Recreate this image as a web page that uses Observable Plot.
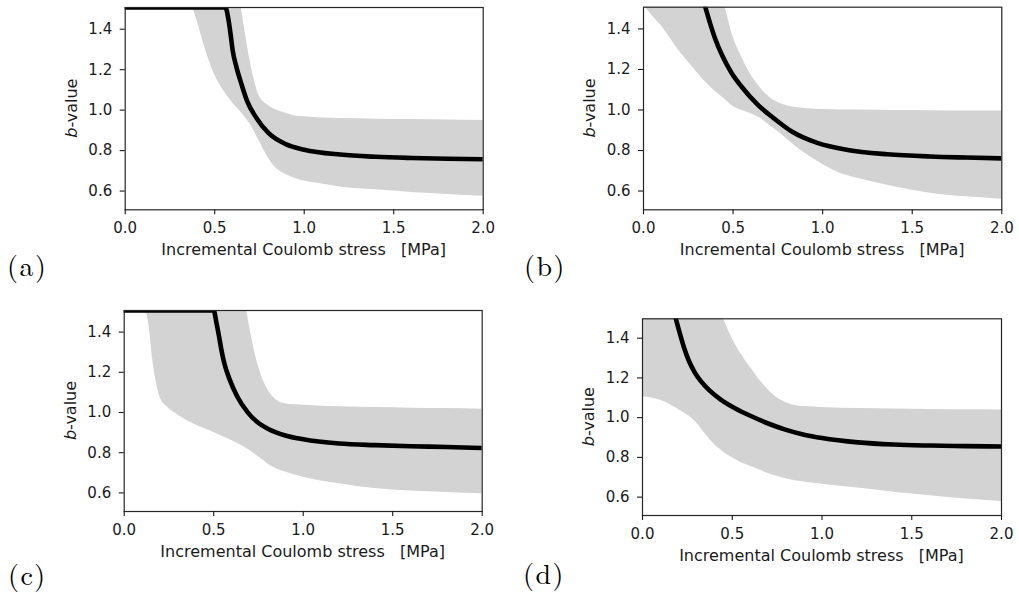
<!DOCTYPE html>
<html><head><meta charset="utf-8">
<script src="https://cdn.jsdelivr.net/npm/d3@7"></script>
<script src="https://cdn.jsdelivr.net/npm/@observablehq/plot@0.6"></script>
<style>
html,body{margin:0;padding:0;background:#fff;}
#root{position:relative;width:1019px;height:594px;overflow:hidden;background:#fff;}
.panel{position:absolute;}
</style></head>
<body><div id="root"></div>
<script>
// ---------- data ----------
const xTicks = [0, 0.5, 1.0, 1.5, 2.0];
const yTicks = [0.6, 0.8, 1.0, 1.2, 1.4];
const xLabel = "Incremental Coulomb stress\u00a0\u00a0\u00a0[MPa]";
const yLabelItalic = "b";
const yLabelRest = "-value";
const panelNames = ["(a)", "(b)", "(c)", "(d)"];

// panel (a)
const bandXa = [0, 0.35, 0.4, 0.45, 0.5, 0.55, 0.6, 0.65, 0.7, 0.75, 0.8, 0.85, 0.9, 0.95, 1.0, 1.1, 1.2, 1.4, 1.6, 1.8, 2.0];
const loA = [2.0, 1.56, 1.44, 1.287, 1.167, 1.088, 1.028, 0.979, 0.92, 0.838, 0.755, 0.7, 0.673, 0.655, 0.642, 0.627, 0.613, 0.599, 0.586, 0.576, 0.567];
const hiA = [2.0, 2.0, 2.0, 2.0, 2.0, 2.0, 1.75, 1.49, 1.226, 1.06, 1.016, 0.991, 0.977, 0.964, 0.96, 0.954, 0.951, 0.948, 0.946, 0.944, 0.942];
const lineXa = [0, 0.56, 0.575, 0.59, 0.6, 0.62, 0.65, 0.68, 0.73, 0.8, 0.9, 1.0, 1.2, 1.4, 1.6, 1.8, 2.0];
const lineYa = [1.5, 1.5, 1.45, 1.36, 1.29, 1.21, 1.12, 1.04, 0.958, 0.88, 0.823, 0.797, 0.773, 0.762, 0.756, 0.752, 0.75];

// panel (b)
const bandXb = [0, 0.05, 0.1, 0.15, 0.2, 0.25, 0.3, 0.35, 0.4, 0.45, 0.5, 0.55, 0.6, 0.65, 0.7, 0.75, 0.8, 0.85, 0.9, 1.0, 1.1, 1.2, 1.4, 1.6, 1.8, 2.0];
const loB = [1.51, 1.457, 1.407, 1.346, 1.283, 1.229, 1.177, 1.127, 1.085, 1.048, 1.01, 0.99, 0.974, 0.953, 0.92, 0.886, 0.85, 0.813, 0.78, 0.723, 0.679, 0.654, 0.614, 0.582, 0.564, 0.552];
const hiB = [2.0, 2.0, 2.0, 2.0, 2.0, 2.0, 2.0, 1.87, 1.69, 1.52, 1.354, 1.25, 1.165, 1.105, 1.058, 1.03, 1.014, 1.005, 1.0, 0.995, 0.993, 0.992, 0.99, 0.989, 0.988, 0.988];
const lineXb = [0.3, 0.345, 0.37, 0.4, 0.44, 0.49, 0.55, 0.64, 0.73, 0.83, 0.97, 1.14, 1.36, 1.6, 1.8, 2.0];
const lineYb = [1.64, 1.5, 1.425, 1.344, 1.26, 1.178, 1.105, 1.017, 0.95, 0.885, 0.83, 0.795, 0.774, 0.763, 0.758, 0.754];

// panel (c)
const bandXc = [0, 0.1, 0.12, 0.14, 0.16, 0.18, 0.2, 0.25, 0.3, 0.4, 0.5, 0.6, 0.65, 0.7, 0.72, 0.74, 0.76, 0.78, 0.8, 0.85, 0.9, 1.0, 1.1, 1.2, 1.4, 1.6, 1.8, 2.0];
const loC = [2.0, 1.62, 1.515, 1.416, 1.25, 1.14, 1.068, 1.012, 0.98, 0.93, 0.893, 0.853, 0.831, 0.805, 0.792, 0.779, 0.766, 0.752, 0.737, 0.713, 0.697, 0.671, 0.652, 0.638, 0.614, 0.602, 0.595, 0.588];
const hiC = [2.0, 2.0, 2.0, 2.0, 2.0, 2.0, 2.0, 2.0, 2.0, 2.0, 2.0, 2.0, 1.72, 1.42, 1.33, 1.254, 1.193, 1.145, 1.109, 1.055, 1.036, 1.028, 1.024, 1.021, 1.017, 1.014, 1.012, 1.009];
const lineXc = [0, 0.5, 0.515, 0.53, 0.545, 0.56, 0.59, 0.63, 0.69, 0.75, 0.8, 0.9, 1.0, 1.2, 1.4, 1.6, 1.8, 2.0];
const lineYc = [1.5, 1.5, 1.44, 1.37, 1.295, 1.235, 1.155, 1.075, 0.993, 0.94, 0.913, 0.878, 0.859, 0.838, 0.83, 0.825, 0.821, 0.816];

// panel (d)
const bandXd = [0, 0.1, 0.2, 0.3, 0.35, 0.4, 0.45, 0.5, 0.55, 0.6, 0.65, 0.7, 0.75, 0.8, 0.9, 1.0, 1.2, 1.4, 1.6, 1.8, 2.0];
const loD = [1.098, 1.08, 1.033, 0.968, 0.91, 0.858, 0.82, 0.791, 0.766, 0.748, 0.73, 0.712, 0.697, 0.685, 0.668, 0.657, 0.638, 0.617, 0.599, 0.583, 0.57];
const hiD = [2.0, 2.0, 2.0, 2.0, 1.72, 1.58, 1.49, 1.39, 1.312, 1.246, 1.184, 1.133, 1.093, 1.068, 1.048, 1.044, 1.038, 1.036, 1.034, 1.032, 1.031];
const lineXd = [0.15, 0.186, 0.21, 0.232, 0.26, 0.29, 0.325, 0.37, 0.436, 0.52, 0.613, 0.7, 0.8, 0.9, 1.0, 1.2, 1.4, 1.6, 1.8, 2.0];
const lineYd = [1.62, 1.49, 1.41, 1.343, 1.275, 1.222, 1.176, 1.132, 1.083, 1.037, 0.997, 0.963, 0.931, 0.907, 0.89, 0.868, 0.857, 0.852, 0.849, 0.847];

// ---------- layout ----------
const layouts = [
  {bx: bandXa, lo: loA, hi: hiA, lx: lineXa, ly: lineYa, yMax: 1.5, left: 0,   top: 0,   w: 509, h: 290, mL: 124.7, mR: 26.3, mT: 7,    mB: 80.7, tagX: 7,  tagY: 276},
  {bx: bandXb, lo: loB, hi: hiB, lx: lineXb, ly: lineYb, yMax: 1.5, left: 510, top: 0,   w: 509, h: 290, mL: 133,   mR: 17.7, mT: 6.7,  mB: 80.7, tagX: 14, tagY: 276},
  {bx: bandXc, lo: loC, hi: hiC, lx: lineXc, ly: lineYc, yMax: 1.5, left: 0,   top: 295, w: 509, h: 299, mL: 123.7, mR: 27.3, mT: 15,   mB: 83,   tagX: 8,  tagY: 290},
  {bx: bandXd, lo: loD, hi: hiD, lx: lineXd, ly: lineYd, yMax: 1.49, left: 510, top: 295, w: 509, h: 299, mL: 132,   mR: 18,   mT: 23.3, mB: 79,   tagX: 13, tagY: 289}
];

const root = document.getElementById("root");
const fmt = d3.format(".1f");
const ink = "#1a1a1a";

layouts.forEach((L, k) => {
  const band = L.bx.map((x, i) => ({x, lo: L.lo[i], hi: L.hi[i]}));
  const line = L.lx.map((x, i) => ({x, y: L.ly[i]}));
  const chart = Plot.plot({
    width: L.w, height: L.h,
    marginLeft: L.mL, marginRight: L.mR, marginTop: L.mT, marginBottom: L.mB,
    style: {fontFamily: "DejaVu Sans", fontSize: "15px", color: ink, background: "transparent", overflow: "visible"},
    x: {domain: [0, 2]},
    y: {domain: [0.5, L.yMax]},
    marks: [
      Plot.areaY(band, {x: "x", y1: "lo", y2: "hi", fill: "#d3d3d3", curve: "monotone-x", clip: true}),
      Plot.lineY(line, {x: "x", y: "y", stroke: "#000", strokeWidth: 4.6, curve: "monotone-x", clip: true}),
      Plot.frame({stroke: "#262626", strokeWidth: 1.2}),
      Plot.axisX({ticks: xTicks, tickFormat: fmt, tickSize: 5, tickPadding: 7.5, fontSize: 15, label: null, strokeWidth: 1.1}),
      Plot.axisY({ticks: yTicks, tickFormat: fmt, tickSize: 5, tickPadding: 8, fontSize: 15, label: null, dy: 1.5, strokeWidth: 1.1})
    ]
  });
  const div = document.createElement("div");
  div.className = "panel";
  div.style.left = L.left + "px";
  div.style.top = L.top + "px";
  div.appendChild(chart);
  root.appendChild(div);

  const svg = d3.select(chart);
  const fw = L.w - L.mL - L.mR, fh = L.h - L.mT - L.mB;
  // x axis title
  svg.append("text")
    .attr("x", L.mL + fw / 2).attr("y", L.mT + fh + 46)
    .attr("text-anchor", "middle")
    .attr("font-family", "DejaVu Sans").attr("font-size", 16).attr("fill", ink)
    .text(xLabel);
  // y axis title
  const yt = svg.append("text")
    .attr("transform", `translate(${L.mL - 48},${L.mT + fh / 2}) rotate(-90)`)
    .attr("text-anchor", "middle")
    .attr("font-family", "DejaVu Sans").attr("font-size", 16).attr("fill", ink);
  yt.append("tspan").attr("font-style", "italic").text(yLabelItalic);
  yt.append("tspan").text(yLabelRest);
  // panel tag
  svg.append("text")
    .attr("x", L.tagX).attr("y", L.tagY)
    .attr("text-anchor", "start")
    .attr("letter-spacing", 1.5)
    .attr("font-family", "'Latin Modern Roman', 'Liberation Serif', serif").attr("font-size", 28).attr("fill", "#000")
    .text(panelNames[k]);
});
</script>
</body></html>
